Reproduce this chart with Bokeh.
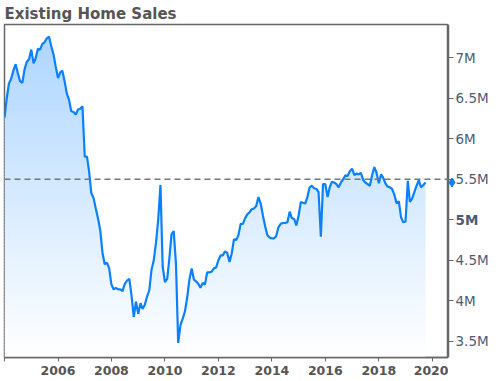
import numpy as np
import pandas as pd
from bokeh.plotting import figure
from bokeh.layouts import row
from bokeh.models import Range1d, FixedTicker, CustomJSTickFormatter, Span
from bokeh.core.properties import value
from bokeh.embed import file_html
from bokeh.resources import INLINE

# Existing home sales, SAAR, millions, monthly from Jan 2004
start_month = "2004-01-01"
sales = [
    6.26, 6.50, 6.68, 6.74, 6.84, 6.92, 6.81, 6.71, 6.69, 6.86, 6.95, 6.98,   # 2004
    7.10, 6.93, 6.99, 7.11, 7.10, 7.17, 7.19, 7.24, 7.26, 7.14, 7.04, 6.89,   # 2005
    6.75, 6.82, 6.84, 6.71, 6.56, 6.48, 6.34, 6.33, 6.30, 6.36, 6.37, 6.40,   # 2006
    5.78, 5.78, 5.60, 5.33, 5.27, 5.14, 5.02, 4.87, 4.59, 4.45, 4.47, 4.40,   # 2007
    4.20, 4.14, 4.16, 4.14, 4.14, 4.12, 4.21, 4.25, 4.27, 4.07, 3.80, 3.99,   # 2008
    3.84, 3.97, 3.90, 3.95, 4.05, 4.13, 4.38, 4.50, 4.72, 5.00, 5.43, 4.42,   # 2009
    4.23, 4.27, 4.51, 4.82, 4.86, 4.45, 3.48, 3.70, 3.78, 3.87, 4.04, 4.26,   # 2010
    4.40, 4.26, 4.24, 4.21, 4.16, 4.22, 4.20, 4.35, 4.35, 4.36, 4.40, 4.41,   # 2011
    4.50, 4.56, 4.56, 4.61, 4.59, 4.48, 4.58, 4.76, 4.75, 4.81, 4.95, 4.95,   # 2012
    5.02, 5.07, 5.09, 5.13, 5.14, 5.17, 5.28, 5.20, 5.05, 4.92, 4.81, 4.78,   # 2013
    4.77, 4.77, 4.80, 4.91, 4.95, 4.96, 4.96, 4.97, 5.10, 5.02, 5.01, 4.93,   # 2014
    5.05, 5.22, 5.21, 5.20, 5.28, 5.40, 5.42, 5.39, 5.38, 5.34, 4.79, 5.44,   # 2015
    5.44, 5.28, 5.40, 5.47, 5.46, 5.44, 5.40, 5.46, 5.50, 5.55, 5.54, 5.60,   # 2016
    5.63, 5.55, 5.57, 5.56, 5.58, 5.49, 5.46, 5.44, 5.42, 5.55, 5.65, 5.58,   # 2017
    5.45, 5.56, 5.52, 5.45, 5.41, 5.40, 5.38, 5.31, 5.20, 5.23, 5.03, 4.97,   # 2018
    4.98, 5.48, 5.22, 5.26, 5.34, 5.42, 5.49, 5.40, 5.43, 5.46,               # 2019
]
tick_years = [2004, 2006, 2008, 2010, 2012, 2014, 2016, 2018, 2020]
y_ticks = [3.5, 4.0, 4.5, 5.0, 5.5, 6.0, 6.5, 7.0]
y_labels = ["3.5M", "4M", "4.5M", "5M", "5.5M", "6M", "6.5M", "7M"]
y_label_styles = ["normal", "normal", "normal", "bold", "normal", "normal", "normal", "normal"]
reference_level = 5.5
title_text = "Existing Home Sales"

dates = pd.date_range(start_month, periods=len(sales), freq="MS")
vals = np.array(sales)

x_start = pd.Timestamp("2004-01-01")
x_end = pd.Timestamp("2020-08-10")
y_range = Range1d(3.30, 7.41)
y_lo, y_hi = y_range.start, y_range.end

TOP, BOTTOM = 24, 24
AXIS_COLOR = "#666666"
LABEL_COLOR = "#4f5b73"

p = figure(width=448, height=381, x_axis_type="datetime", y_axis_location=None,
           output_backend="svg", toolbar_location=None,
           x_range=Range1d(x_start, x_end), y_range=y_range,
           min_border_left=4, min_border_right=0, min_border_top=TOP, min_border_bottom=BOTTOM)

p.title.text = title_text
p.title.text_font = "DejaVu Sans"
p.title.text_font_size = "15px"
p.title.text_font_style = "bold"
p.title.text_color = "#555555"
p.title.standoff = 3
p.title.offset = 0

p.xgrid.visible = False
p.ygrid.visible = False
p.outline_line_color = AXIS_COLOR
p.outline_line_width = 1.5
p.background_fill_color = "white"
p.border_fill_color = "white"

# gradient fill built from horizontal bands
edges = np.arange(y_lo, y_hi + 0.04, 0.04)
eps = 0.012
top_a = 0.33
for lo, hi in list(zip(edges[:-1], edges[1:]))[::-1]:
    a = top_a * max(0.0, (lo + hi) / 2 - y_lo) / (y_hi - y_lo)
    r = int(round(255 * (1 - a)))
    g = int(round(255 * (1 - a) + 125 * a))
    col = "#%02x%02x%02x" % (r, g, 255)
    y1 = np.minimum(lo - eps, vals)
    y2 = np.minimum(vals, hi)
    y1 = np.minimum(y1, y2)
    p.varea(x=dates, y1=y1, y2=y2, fill_color=col, fill_alpha=1.0)

p.line(dates, vals, line_color="#0a80ff", line_width=2.2)

p.add_layout(Span(location=reference_level, dimension="width", line_color="#777777",
                  line_dash="6 4", line_width=1.5))

# x axis
xa = p.xaxis[0]
xa.ticker = FixedTicker(ticks=[pd.Timestamp(f"{yr}-01-01").value / 1e6 for yr in tick_years])
xa.formatter = CustomJSTickFormatter(
    code="const y = new Date(tick).getUTCFullYear(); return y == 2004 ? '' : String(y);")
xa.minor_tick_line_color = None
xa.major_tick_out = 4
xa.major_tick_in = 0
xa.major_tick_line_color = AXIS_COLOR
xa.axis_line_color = AXIS_COLOR
xa.axis_line_width = 1.5
xa.major_label_text_font = "DejaVu Sans"
xa.major_label_text_font_size = "12.5px"
xa.major_label_text_font_style = "bold"
xa.major_label_text_color = "#555555"
xa.major_label_standoff = 4

# right-hand value axis as its own narrow panel (allows a bold tick label)
p2 = figure(width=48, height=381, x_axis_location=None, y_axis_location="left",
            output_backend="svg", toolbar_location=None,
            x_range=Range1d(0, 48), y_range=y_range,
            min_border_left=0, min_border_right=0, min_border_top=TOP, min_border_bottom=BOTTOM)
p2.xgrid.visible = False
p2.ygrid.visible = False
p2.outline_line_color = None
p2.background_fill_color = "white"
p2.border_fill_color = "white"
ya = p2.yaxis[0]
ya.ticker = FixedTicker(ticks=y_ticks)
ya.formatter = CustomJSTickFormatter(code="return '';")
ya.minor_tick_line_color = None
ya.major_tick_out = 0
ya.major_tick_in = 5
ya.major_label_standoff = 0
ya.major_tick_line_color = AXIS_COLOR
ya.axis_line_color = AXIS_COLOR
ya.axis_line_width = 1.5

p2.text(x=[7] * len(y_ticks), y=y_ticks, text=y_labels, text_font=value("DejaVu Sans"),
        text_font_size="13.5px", text_font_style=y_label_styles, text_color=LABEL_COLOR,
        text_baseline="middle", text_align="left")
p2.scatter(x=[3.5], y=[sales[-1]], marker="diamond", size=9, color="#0a80ff")

layout = row(p, p2, spacing=0)
open("out.html", "w").write(file_html(layout, INLINE))
